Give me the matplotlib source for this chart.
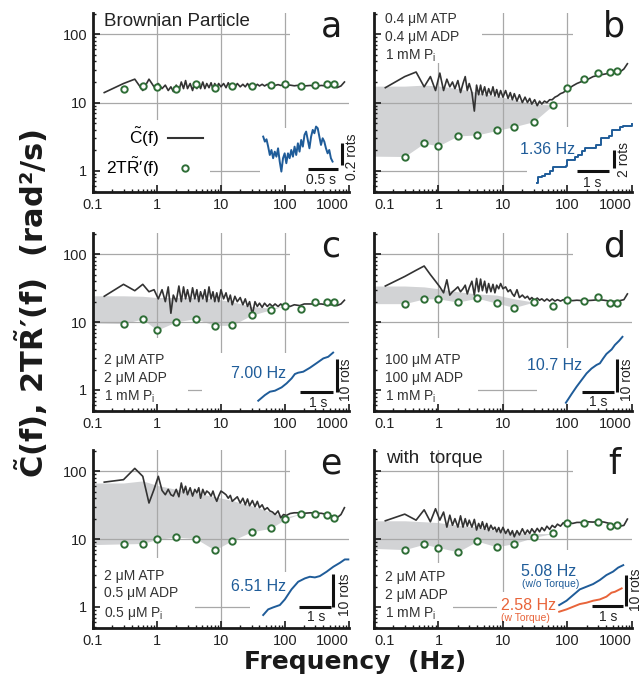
import numpy as np
import matplotlib
matplotlib.use('Agg')
import matplotlib.pyplot as plt
from matplotlib.lines import Line2D
from matplotlib.patches import Rectangle
from matplotlib.ticker import NullFormatter
import matplotlib.transforms as mtransforms

plt.rcParams['font.family'] = ['Liberation Sans', 'DejaVu Sans']
plt.rcParams['mathtext.fontset'] = 'custom'
plt.rcParams['mathtext.rm'] = 'Liberation Sans'
plt.rcParams['mathtext.it'] = 'Liberation Sans'
plt.rcParams['mathtext.bf'] = 'DejaVu Sans:bold'
plt.rcParams['font.size'] = 10.5

# ---- data ----
# frequencies of the spectrum C(f) (Hz)
f_line = [0.15, 0.3, 0.45, 0.6, 0.75, 0.9,
          1.05, 1.2, 1.35, 1.5, 1.65, 1.8,
          2.0, 2.2, 2.4, 2.6, 2.8, 3.0,
          3.3, 3.6, 3.9, 4.2, 4.5, 4.8,
          5.2, 5.6, 6.0, 6.5, 7.0, 7.5,
          8.0, 8.6, 9.2, 10, 11, 12,
          13, 14, 15, 16.5, 18, 20,
          22, 24, 26, 28, 31, 34,
          37, 40, 44, 48, 53, 58,
          64, 70, 78, 86, 95, 105,
          120, 140, 170, 200, 250, 300,
          370, 450, 550, 650, 750, 850]

c_a = [14, 19, 22, 15, 22, 17,
       19, 16, 18, 15, 17, 14.5,
       18, 15, 20, 16, 21, 16,
       19, 15, 20, 16, 19, 16,
       20, 16, 19, 16.5, 19.5, 16,
       19, 16.5, 19, 17, 19, 16.5,
       19.5, 17, 18.5, 16.5, 19, 17,
       18.5, 17, 19, 17, 18.5, 17,
       18.5, 17.5, 18.5, 17.5, 18.5, 17.5,
       18.3, 17.8, 18.3, 17.8, 18.2, 17.8,
       18, 17.6, 18, 17.5, 17.8, 17.3,
       17.8, 17.5, 17.5, 16.5, 17.5, 20]

c_b = [16.5, 24, 28, 17, 24, 15,
       27, 15, 22, 17, 20, 16,
       21, 14, 19, 24, 15, 19,
       14, 7.5, 18, 13, 18, 13,
       17, 12.5, 16, 13, 17, 12.5,
       15.5, 12, 15, 12, 15, 11.5,
       14, 11, 13.5, 10.5, 13, 10,
       12, 10, 11.5, 9.5, 11, 9,
       10.5, 9.5, 10.5, 10, 11, 11,
       12, 12.5, 13.5, 14, 15, 16,
       17.5, 19, 20.5, 21.5, 24, 25,
       26, 27, 27.5, 28, 31, 37]

c_c = [24, 36, 29, 36, 28, 30,
       22, 30, 20, 33, 13.5, 25,
       20, 34, 20, 33, 22, 30,
       20, 32, 22, 30, 20, 28,
       22, 30, 20, 33, 22, 28,
       20, 27, 20, 30, 22, 27,
       20, 25, 18, 24, 20, 23,
       18, 22, 17, 20, 13, 20,
       17, 19, 16.5, 19, 17, 18.5,
       17, 18.5, 17, 18.5, 17, 18,
       17, 18, 17.5, 18.5, 18.5, 18.5,
       18.5, 18, 18, 17.5, 18.5, 21]

c_d = [34, 47, 58, 67, 50, 40,
       33, 27, 42, 25, 28, 30,
       33, 28, 31, 35, 26, 32,
       40, 25, 44, 28, 43, 29,
       40, 27, 37, 28, 36, 27,
       35, 31, 37, 31, 33, 28,
       30, 26, 24, 30, 23, 25,
       22.6, 24, 21.4, 23, 21, 22.6,
       21, 22, 20.4, 21.9, 20.4, 21.9,
       20.4, 21.4, 20.4, 21.4, 20.7, 21,
       20.7, 21, 20.7, 20.7, 21, 21.4,
       21, 20.4, 20.2, 20.7, 21.4, 26]

c_e = [69, 75, 110, 84, 34, 54,
       84, 52, 45, 54, 45, 43,
       54, 42, 67, 48, 60, 45,
       57, 43, 54, 48, 57, 40,
       54, 45, 51, 48, 43, 51,
       42, 36, 43, 51, 48, 45,
       40, 44, 36, 39, 42, 34,
       40, 32, 39, 31, 37, 30,
       36, 29, 32, 27, 29, 26,
       25, 23, 26, 20.6, 23, 22.3,
       23.8, 24.4, 24.4, 24, 24.4, 24,
       24, 23, 21.8, 20.6, 23, 29]

c_f = [18.6, 23.3, 19, 27, 18, 28,
       19, 25, 15, 22.5, 16, 20,
       15, 22, 15, 20, 15.5, 19,
       15, 19.5, 13.6, 17, 14.4, 18,
       13.9, 17, 13.3, 16, 13.9, 15,
       12.8, 14.8, 12.4, 14.9, 12.1, 13.9,
       11.5, 13.3, 10.8, 13.3, 11.5, 14.2,
       11.8, 13.6, 12.1, 14.2, 12.4, 14.4,
       12.8, 14.8, 13.3, 15.5, 13.9, 15.9,
       14.8, 16.6, 15.5, 17.4, 16.6, 17.6,
       17, 17.6, 17.6, 18, 17.8, 18.2,
       17.8, 17, 15.5, 15.5, 15.9, 19.7]

# frequencies of the response points 2T R'(f)
f_pts = [0.3, 0.6, 1, 2, 4, 8, 15, 30, 60, 100, 180, 300, 450, 580]
r_a = [15.8, 17.5, 17, 15.6, 18.7, 16.6, 17.4, 17.4, 18, 19, 17.4, 18, 19, 19]
r_b = [1.62, 2.54, 2.32, 3.24, 3.36, 3.9, 4.44, 5.25, 9.2, 16.6, 22.3, 26.7, 28.2, 28.8]
r_c = [9.5, 11.1, 7.6, 10.1, 11.2, 8.9, 9.0, 12.6, 15.2, 17.4, 15.6, 19.9, 19.5, 19.5]
r_d = [18.7, 22, 22, 19.7, 22.5, 19, 16.4, 19.7, 17.4, 20.9, 20.7, 23.4, 19, 19]
r_e = [8.5, 8.6, 9.9, 10.7, 10.2, 6.9, 9.5, 12.8, 14.4, 19.5, 23.8, 23.5, 23, 20.6]
r_f = [7.0, 8.4, 7.5, 6.5, 9.3, 7.7, 8.6, 10.6, 12.1, 17, 17, 18, 15.5, 16.1]

# shaded area (heat dissipation) bounds
fill_f = [0.1, 0.3, 0.6, 1, 2, 4, 8, 15, 30, 60, 100, 180, 300, 450, 580]
hi_b = [17.4, 17.4, 18, 17.5, 16, 14, 12.5, 11, 9.5, 9.2, 16.6, 22.3, 26.7, 28.2, 28.8]
lo_b = [1.64, 1.62, 2.54, 2.32, 3.24, 3.36, 3.9, 4.44, 5.25, 9.2, 16.6, 22.3, 26.7, 28.2, 28.8]
hi_c = [24.4, 24.4, 24, 23, 23, 23, 22, 20, 17, 16, 17.4, 15.6, 19.9, 19.5, 19.5]
lo_c = [9.7, 9.5, 11.1, 7.6, 10.1, 11.2, 8.9, 9.0, 12.6, 15.2, 17.4, 15.6, 19.9, 19.5, 19.5]
hi_d = [34, 34, 33, 31, 28, 26, 25, 22, 19.7, 17.4, 20.9, 20.7, 23.4, 19, 19]
lo_d = [18.7, 18.7, 22, 22, 19.7, 22.5, 19, 16.4, 19.7, 17.4, 20.9, 20.7, 23.4, 19, 19]
hi_e = [67, 67, 72, 62, 54, 48, 42, 37, 31, 25, 21, 23.8, 23.5, 23, 20.6]
lo_e = [8.3, 8.5, 8.6, 9.9, 10.7, 10.2, 6.9, 9.5, 12.8, 14.4, 19.5, 23.8, 23.5, 23, 20.6]
hi_f = [18.6, 18.6, 18, 17.5, 16, 15, 13.5, 12.5, 12, 12.1, 17, 17, 18, 15.5, 16.1]
lo_f = [7.3, 7.0, 8.4, 7.5, 6.5, 9.3, 7.7, 8.6, 10.6, 12.1, 17, 17, 18, 15.5, 16.1]

# rotation traces for the insets (time in s, angle in rotations)
trace_a_rot = [0.329, 0.284, 0.305, 0.239, 0.164, 0.209, 0.135, 0.194, 0.149, 0.224,
               0.105, 0.015, 0.135, 0.179, 0.090, 0.179, 0.135, 0.209, 0.149, 0.239,
               0.164, 0.269, 0.194, 0.299, 0.239, 0.344, 0.374, 0.299, 0.224, 0.329,
               0.389, 0.359, 0.419, 0.404, 0.329, 0.254, 0.314, 0.284, 0.224, 0.179,
               0.209, 0.135, 0.105]
trace_a_t = np.linspace(0, 1.156, len(trace_a_rot))
trace_b_t = [0, 0.05, 0.15, 0.25, 0.42, 0.5, 0.9, 0.95, 1.2, 1.3, 1.4, 1.5, 1.85, 2.0,
             2.25, 2.35, 2.6, 2.7, 2.97]
trace_b_rot = [0, 0.7, 0.8, 1.0, 1.3, 1.8, 1.9, 2.5, 2.9, 3.1, 3.5, 3.8, 4.2, 4.9,
               5.2, 5.8, 6.1, 6.3, 6.5]
trace_c_t = [0, 0.204, 0.357, 0.51, 0.714, 0.867, 1.02, 1.12, 1.22, 1.376, 1.58, 1.78, 1.99, 2.14, 2.29]
trace_c_rot = [0, 1.75, 2.79, 3.10, 4.13, 5.37, 6.91, 8.26, 8.67, 8.98, 10.2, 11.6, 13.1, 13.6, 14.9]
trace_d_t = [0, 0.173, 0.326, 0.479, 0.632, 0.785, 0.938, 1.04, 1.14, 1.24, 1.40, 1.50, 1.63, 1.73]
trace_d_rot = [0, 2.68, 4.95, 7.02, 9.08, 10.6, 11.7, 12.2, 13.7, 15.1, 16.5, 17.9, 19.2, 20.4]
trace_e_t = [0, 0.156, 0.3125, 0.52, 0.677, 0.885, 1.094, 1.30, 1.458, 1.615, 1.77, 1.98, 2.19, 2.40, 2.55, 2.66]
trace_e_rot = [0, 1.70, 2.30, 3.0, 4.70, 7.71, 10.0, 11.0, 11.5, 11.3, 11.7, 13.0, 14.5, 15.7, 16.7, 16.7]
trace_f_t = [0, 0.231, 0.44, 0.65, 0.86, 1.07, 1.28, 1.49, 1.70, 1.86, 2.02]
trace_f_rot = [0, 1.41, 3.26, 5.10, 5.97, 6.84, 8.14, 9.77, 10.9, 12.2, 13.0]
trace_ft_t = [0, 0.231, 0.44, 0.65, 0.86, 1.07, 1.28, 1.49, 1.65, 1.76, 1.97]
trace_ft_rot = [0, 0.76, 1.63, 2.5, 2.93, 3.58, 4.0, 4.9, 6.2, 6.5, 7.6]

x_ticks = [0.1, 1, 10, 100, 1000]
x_tick_labels = ['0.1', '1', '10', '100', '1000']
y_ticks = [1, 10, 100]
y_tick_labels = ['1', '10', '100']
grid_decades = [1, 10, 100]

line_color = '#333333'
green = '#2f6e37'
blue = '#1f5c99'
orange = '#e8643a'
fill_color = '#d2d3d5'
grid_color = '#a8a8a8'

# ---- layout ----
col_left = [0.1446, 0.5816]
col_w = [0.3981, 0.4012]
row_bottom = [0.7189, 0.3982, 0.0805]
row_h = [0.2621, 0.2606, 0.2606]

panels = [
    dict(letter='a', row=0, col=0, c=c_a, r=r_a, hi=None, lo=None,
         cond=None, top='Brownian Particle',
         masks=[(0.77, 0.82, 1.0, 1.0), (0, 0, 0.457, 0.402), (0.652, 0, 1.0, 0.357)],
         traces=[(trace_a_t, trace_a_rot, blue, (0.665, 0.1045))],
         scale=(0.2344, 0.623), origin=(0.665, 0.1045),
         hbar=(0.75, 1.25, 0.036), vbar=(1.307, 0.075, 0.275),
         hlab=('0.5 s', 0.97, -0.06), vlab=('0.2 rots', 1.48, 0.146),
         hz=None),
    dict(letter='b', row=0, col=1, c=c_b, r=r_b, hi=hi_b, lo=lo_b,
         cond='0.4 μM ATP\n0.4 μM ADP\n1 mM P$_\\mathrm{i}$', cond_y=0.86, top=None,
         masks=[(0, 0.72, 0.419, 1.0), (0.771, 0.82, 1.0, 1.0), (0.593, 0, 1.0, 0.363)],
         traces=[(trace_b_t, trace_b_rot, blue, (0.631, 0.0486))],
         scale=(0.124, 0.0512), origin=(0.631, 0.0486),
         hbar=(1.27, 2.27, 1.35), vbar=(2.40, 1.64, 3.64),
         hlab=('1 s', 1.72, 0.07), vlab=('2 rots', 2.73, 2.6),
         hz=('1.36 Hz', 0.672, 0.235)),
    dict(letter='c', row=1, col=0, c=c_c, r=r_c, hi=hi_c, lo=lo_c,
         cond='2 μM ATP\n2 μM ADP\n1 mM P$_\\mathrm{i}$', cond_y=0.18, top=None,
         masks=[(0, 0, 0.371, 0.41), (0.77, 0.82, 1.0, 1.0), (0.426, 0, 1.0, 0.326)],
         traces=[(trace_c_t, trace_c_rot, blue, (0.6457, 0.0579))],
         scale=(0.1277, 0.01815), origin=(0.6457, 0.0579),
         hbar=(1.275, 2.275, 2.79), vbar=(2.42, 2.79, 12.79),
         hlab=('1 s', 1.82, -0.6), vlab=('10 rots', 2.68, 6.4),
         hz=('7.00 Hz', 0.648, 0.212)),
    dict(letter='d', row=1, col=1, c=c_d, r=r_d, hi=hi_d, lo=lo_d,
         cond='100 μM ATP\n100 μM ADP\n1 mM P$_\\mathrm{i}$', cond_y=0.18, top=None,
         masks=[(0, 0, 0.403, 0.41), (0.771, 0.82, 1.0, 1.0), (0.632, 0, 1.0, 0.354)],
         traces=[(trace_d_t, trace_d_rot, blue, (0.744, 0.0466))],
         scale=(0.1267, 0.01815), origin=(0.744, 0.0466),
         hbar=(0.48, 1.48, 3.4), vbar=(1.57, 3.4, 13.4),
         hlab=('1 s', 0.99, 0.3), vlab=('10 rots', 1.86, 7.0),
         hz=('10.7 Hz', 0.70, 0.253)),
    dict(letter='e', row=2, col=0, c=c_e, r=r_e, hi=hi_e, lo=lo_e,
         cond='2 μM ATP\n0.5 μM ADP\n0.5 μM P$_\\mathrm{i}$', cond_y=0.185, top=None,
         masks=[(0, 0, 0.398, 0.393), (0.77, 0.82, 1.0, 1.0), (0.613, 0, 1.0, 0.315)],
         traces=[(trace_e_t, trace_e_rot, blue, (0.665, 0.073))],
         scale=(0.125, 0.0187), origin=(0.665, 0.073),
         hbar=(1.12, 2.12, 2.3), vbar=(2.19, 2.3, 12.3),
         hlab=('1 s', 1.65, -0.5), vlab=('10 rots', 2.55, 6.0),
         hz=('6.51 Hz', 0.645, 0.232)),
    dict(letter='f', row=2, col=1, c=c_f, r=r_f, hi=hi_f, lo=lo_f,
         cond='2 μM ATP\n2 μM ADP\n1 mM P$_\\mathrm{i}$', cond_y=0.18, top='with  torque',
         masks=[(0, 0, 0.306, 0.365), (0.771, 0.82, 1.0, 1.0), (0.477, 0, 1.0, 0.202),
                (0.547, 0, 1.0, 0.438)],
         traces=[(trace_f_t, trace_f_rot, blue, (0.718, 0.129)),
                 (trace_ft_t, trace_ft_rot, orange, (0.718, 0.0916))],
         scale=(0.1229, 0.01725), origin=(0.718, 0.0916),
         hbar=(1.02, 2.02, 1.95), vbar=(2.10, 1.95, 11.95),
         hlab=('1 s', 1.55, -1.6), vlab=('10 rots', 2.41, 7.1),
         hz=('5.08 Hz', 0.678, 0.318)),
]

fig = plt.figure(figsize=(6.43, 6.83), dpi=100)

for p in panels:
    ax = fig.add_axes([col_left[p['col']], row_bottom[p['row']],
                       col_w[p['col']], row_h[p['row']]])
    ax.set_xscale('log')
    ax.set_yscale('log')
    ax.set_xlim(0.1, 1000)
    ax.set_ylim(0.49, 205)
    ax.set_xticks(x_ticks)
    ax.set_xticklabels(x_tick_labels)
    ax.set_yticks(y_ticks)
    if p['col'] == 0:
        ax.set_yticklabels(y_tick_labels)
    else:
        ax.set_yticklabels([])
    ax.xaxis.set_minor_formatter(NullFormatter())
    ax.yaxis.set_minor_formatter(NullFormatter())
    ax.tick_params(which='both', direction='in', top=False, right=False,
                   colors='#1a1a1a', labelcolor='#222222')
    ax.tick_params(which='major', length=5, width=1.2, pad=4)
    ax.tick_params(which='minor', length=2.5, width=1.0)
    # keep the end labels of neighbouring panels apart
    xt = ax.xaxis.get_major_ticks()
    xt[-1].label1.set_horizontalalignment('right')
    if p['col'] == 1:
        xt[0].label1.set_horizontalalignment('left')
    for side in ['top', 'right']:
        ax.spines[side].set_visible(False)
    for side in ['left', 'bottom']:
        ax.spines[side].set_linewidth(2.0)
        ax.spines[side].set_color('#1a1a1a')
        ax.spines[side].set_zorder(10)
    ax.xaxis.set_zorder(10)
    ax.yaxis.set_zorder(10)

    if p['hi'] is not None:
        ax.fill_between(fill_f, p['lo'], p['hi'], color=fill_color, lw=0, zorder=0.5)
    for g in grid_decades:
        ax.axvline(g, color=grid_color, lw=0.9, zorder=1)
        ax.axhline(g, color=grid_color, lw=0.9, zorder=1)
    for (x0, y0, x1, y1) in p['masks']:
        ax.add_patch(Rectangle((x0, y0), x1 - x0, y1 - y0, transform=ax.transAxes,
                               facecolor='white', edgecolor='none', zorder=1.5))

    ax.plot(f_line, p['c'], color=line_color, lw=1.2, zorder=3)
    ax.plot(f_pts, p['r'], 'o', mfc='white', mec=green, ms=4.6, mew=1.4, zorder=4)

    ax.text(0.93, 0.866, p['letter'], transform=ax.transAxes, ha='center',
            va='baseline', fontsize=25, family='DejaVu Sans', color='#1a1a1a')
    if p['top']:
        ax.text(0.045, 0.95, p['top'], transform=ax.transAxes, ha='left', va='center',
                fontsize=13.5, color='#222222')
    if p['cond']:
        ax.text(0.043, p['cond_y'], p['cond'], transform=ax.transAxes, ha='left',
                va='center', fontsize=10, linespacing=1.35, color='#333333', zorder=5)

    # inset rotation traces with scale bars
    sx, sy = p['scale']
    for t, rot, col, org in p['traces']:
        tr = mtransforms.Affine2D().scale(sx, sy).translate(*org) + ax.transAxes
        ds = 'steps-post' if p['letter'] == 'b' else 'default'
        ax.plot(t, rot, color=col, lw=1.4, transform=tr, zorder=4, clip_on=False,
                drawstyle=ds)
    tr = mtransforms.Affine2D().scale(sx, sy).translate(*p['origin']) + ax.transAxes
    t0, t1, rh = p['hbar']
    ax.plot([t0, t1], [rh, rh], color='#111111', lw=2.2, transform=tr,
            solid_capstyle='butt', zorder=4, clip_on=False)
    tv, r0, r1 = p['vbar']
    ax.plot([tv, tv], [r0, r1], color='#111111', lw=2.2, transform=tr,
            solid_capstyle='butt', zorder=4, clip_on=False)
    lab, lx, ly = p['hlab']
    ax.text(lx, ly, lab, transform=tr, ha='center', va='center', fontsize=10,
            color='#222222', zorder=5)
    lab, lx, ly = p['vlab']
    ax.text(lx, ly, lab, transform=tr, ha='center', va='center', fontsize=10,
            rotation=90, color='#222222', zorder=5)
    if p['hz']:
        lab, hx, hy = p['hz']
        ax.text(hx, hy, lab, transform=ax.transAxes, ha='center', va='center',
                fontsize=11.5, color=blue, zorder=5)

    if p['letter'] == 'a':
        handles = [Line2D([], [], color=line_color, lw=1.5),
                   Line2D([], [], ls='none', marker='o', mfc='white', mec=green,
                          ms=4.6, mew=1.4)]
        ax.legend(handles, [r'$\mathrm{\tilde{C}}$(f)', r'2T$\mathrm{\tilde{R}}$′(f)'],
                  loc='lower left', bbox_to_anchor=(0.05, 0.07), markerfirst=False,
                  frameon=False, fontsize=12.5, handlelength=2.0, handletextpad=0.5,
                  labelspacing=0.4, borderpad=0, borderaxespad=0)
    if p['letter'] == 'f':
        ax.text(0.684, 0.245, '(w/o Torque)', transform=ax.transAxes, ha='center',
                va='center', fontsize=7.5, color=blue, zorder=5)
        ax.text(0.599, 0.125, '2.58 Hz', transform=ax.transAxes, ha='center',
                va='center', fontsize=11.5, color=orange, zorder=5)
        ax.text(0.587, 0.054, '(w Torque)', transform=ax.transAxes, ha='center',
                va='center', fontsize=7.5, color=orange, zorder=5)

fig.text(0.048, 0.555, r'$\mathbf{\tilde{C}}$(f), 2T$\mathbf{\tilde{R}}$′(f)  (rad²/s)',
         rotation=90, ha='center', va='center', fontsize=22, fontweight='bold',
         family='DejaVu Sans', color='#1a1a1a')
fig.text(0.552, 0.031, 'Frequency  (Hz)', ha='center', va='center', fontsize=18,
         fontweight='bold', family='DejaVu Sans', color='#1a1a1a')

fig.savefig('out.png', dpi=100)
